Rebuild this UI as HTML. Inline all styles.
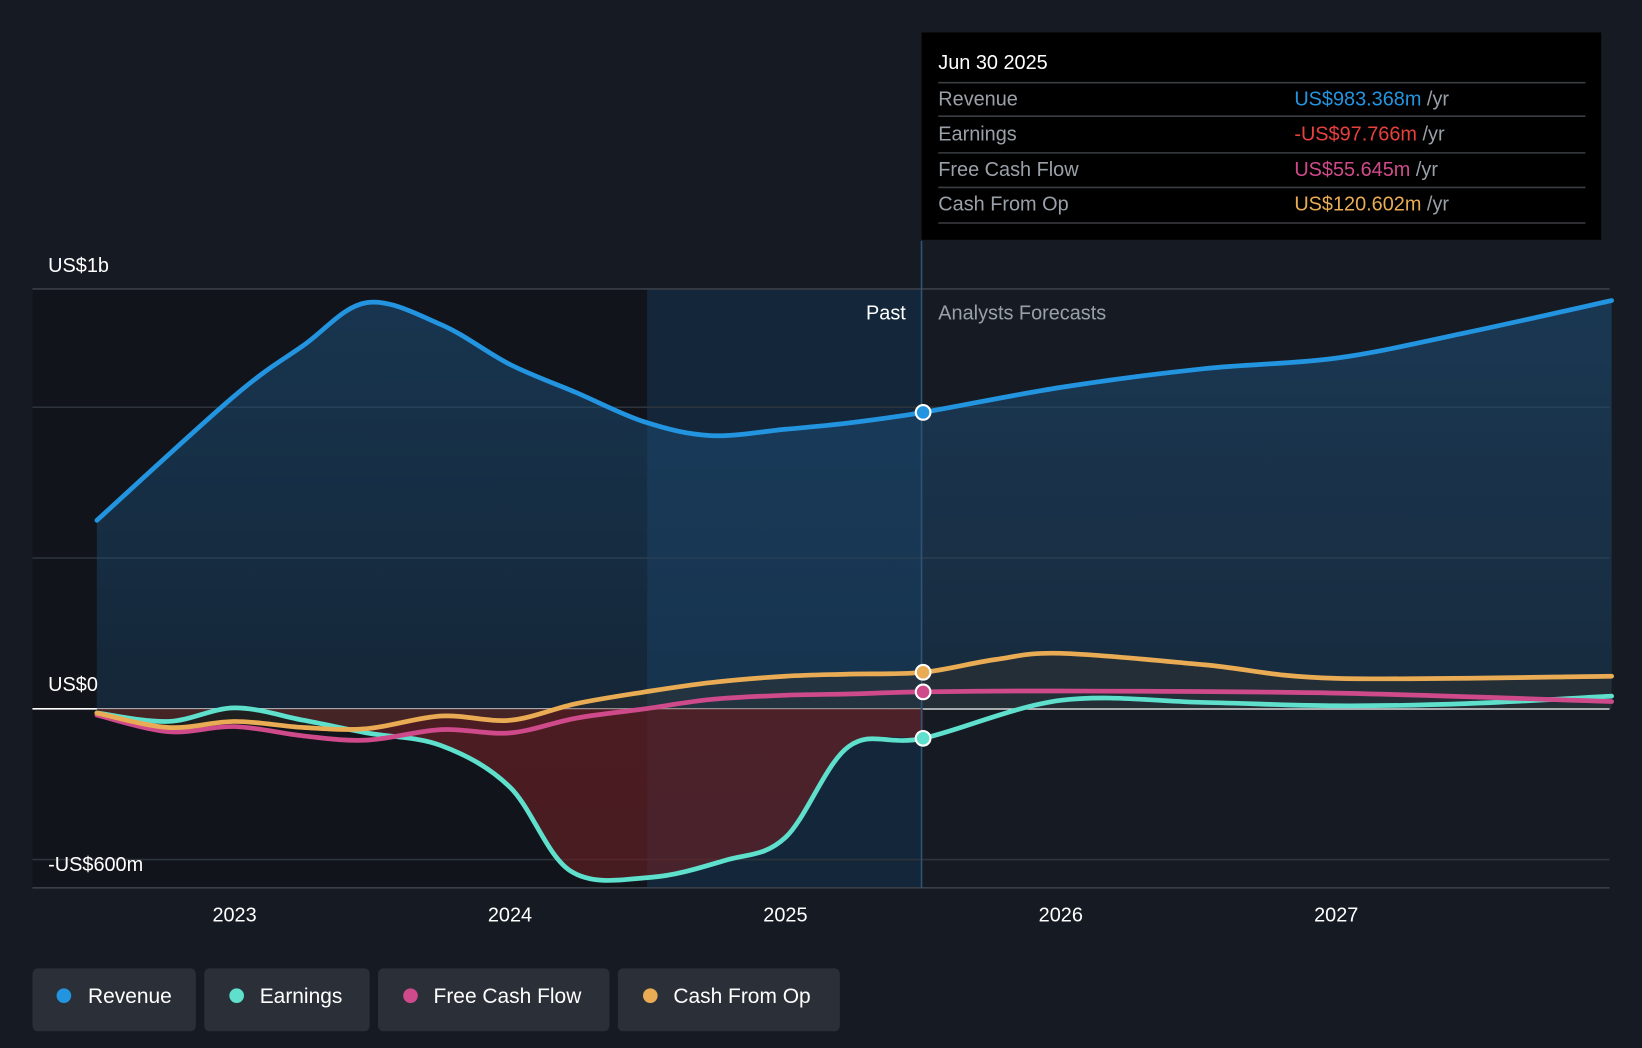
<!DOCTYPE html>
<html><head><meta charset="utf-8"><style>
html,body{margin:0;padding:0;background:#161b23;}
svg{display:block;font-family:"Liberation Sans",sans-serif;}
</style></head><body>
<svg id="chart" width="1642" height="1048" viewBox="0 0 1568 1001" preserveAspectRatio="none" xmlns="http://www.w3.org/2000/svg">
<defs>
<linearGradient id="revFill" x1="0" y1="0" x2="0" y2="1"><stop offset="0" stop-color="#1d4f7a" stop-opacity="0.55"/><stop offset="1" stop-color="#1d4f7a" stop-opacity="0.3"/></linearGradient>
<linearGradient id="earnFill" x1="0" y1="0" x2="0" y2="1"><stop offset="0" stop-color="#5a1f24" stop-opacity="0.8"/><stop offset="1" stop-color="#6a2024" stop-opacity="0.6"/></linearGradient>
</defs>
<rect x="0" y="0" width="1568" height="1001" fill="#161b23"/>
<rect x="31" y="276" width="587" height="572" fill="#11151b"/>
<rect x="618" y="276" width="262" height="572" fill="#142a40" opacity="0.8"/>
<g id="grid"></g>
<g id="areas"></g>
<g id="lines"></g>
<line x1="880" y1="230" x2="880" y2="848" stroke="#2d5577" stroke-width="1.5"/>
<text x="865" y="305" fill="#ffffff" font-size="19" text-anchor="end">Past</text>
<text x="896" y="305" fill="#9aa0a8" font-size="19">Analysts Forecasts</text>
<text x="46" y="260" fill="#ffffff" font-size="19">US$1b</text>
<text x="46" y="660" fill="#ffffff" font-size="19">US$0</text>
<text x="46" y="832" fill="#ffffff" font-size="19">-US$600m</text>
<g id="xticks"></g>
<g id="dots"></g>
<g>
<rect x="880" y="31" width="649" height="198" fill="#000000"/>
<text x="896" y="66" fill="#fff" font-size="19">Jun 30 2025</text>
<line x1="896" y1="79" x2="1514" y2="79" stroke="#3a3d42" stroke-width="1.5"/>
<text x="896" y="101" fill="#9aa0a8" font-size="19">Revenue</text>
<text x="1236" y="101" font-size="19"><tspan fill="#2394e0">US$983.368m</tspan><tspan fill="#9aa0a8"> /yr</tspan></text>
<line x1="896" y1="111" x2="1514" y2="111" stroke="#3a3d42" stroke-width="1.5"/>
<text x="896" y="134" fill="#9aa0a8" font-size="19">Earnings</text>
<text x="1236" y="134" font-size="19"><tspan fill="#e8403c">-US$97.766m</tspan><tspan fill="#9aa0a8"> /yr</tspan></text>
<line x1="896" y1="146" x2="1514" y2="146" stroke="#3a3d42" stroke-width="1.5"/>
<text x="896" y="168" fill="#9aa0a8" font-size="19">Free Cash Flow</text>
<text x="1236" y="168" font-size="19"><tspan fill="#cf4a8a">US$55.645m</tspan><tspan fill="#9aa0a8"> /yr</tspan></text>
<line x1="896" y1="179" x2="1514" y2="179" stroke="#3a3d42" stroke-width="1.5"/>
<text x="896" y="201" fill="#9aa0a8" font-size="19">Cash From Op</text>
<text x="1236" y="201" font-size="19"><tspan fill="#e9ac54">US$120.602m</tspan><tspan fill="#9aa0a8"> /yr</tspan></text>
<line x1="896" y1="213" x2="1514" y2="213" stroke="#3a3d42" stroke-width="1.5"/>
</g>
<g>
<g><rect x="31" y="925" width="156" height="60" rx="5" fill="#2a2f38"/><circle cx="61" cy="951" r="7" fill="#2394e0"/><text x="84" y="958" fill="#fff" font-size="20">Revenue</text></g>
<g><rect x="195" y="925" width="158" height="60" rx="5" fill="#2a2f38"/><circle cx="226" cy="951" r="7" fill="#5ee0cc"/><text x="248" y="958" fill="#fff" font-size="20">Earnings</text></g>
<g><rect x="361" y="925" width="221" height="60" rx="5" fill="#2a2f38"/><circle cx="392" cy="951" r="7" fill="#cf4a8a"/><text x="414" y="958" fill="#fff" font-size="20">Free Cash Flow</text></g>
<g><rect x="590" y="925" width="212" height="60" rx="5" fill="#2a2f38"/><circle cx="621" cy="951" r="7" fill="#e9ac54"/><text x="643" y="958" fill="#fff" font-size="20">Cash From Op</text></g>
</g>
</svg>
<script>
const revT = [2022.5,2023.0,2023.25,2023.48,2023.75,2024.0,2024.24,2024.49,2024.73,2025.0,2025.23,2025.5,2026.0,2026.52,2027.0,2027.47,2028.0];
const revV = [625,1038,1205,1347,1274,1142,1049,951,906,927,948,983,1066,1128,1163,1247,1354];
const earnT = [2022.5,2022.76,2023.0,2023.25,2023.48,2023.75,2024.0,2024.22,2024.51,2024.78,2025.0,2025.23,2025.5,2026.0,2026.52,2027.0,2027.47,2028.0];
const earnV = [-14,-42,3,-38,-80,-122,-260,-538,-559,-503,-427,-125,-98,28,21,10,17,42];
const fcfT = [2022.5,2022.76,2023.0,2023.25,2023.48,2023.75,2024.0,2024.24,2024.49,2024.73,2025.0,2025.23,2025.5,2026.0,2027.0,2028.0];
const fcfV = [-21,-76,-59,-90,-104,-69,-80,-31,0,31,45,49,56,59,52,24];
const cfoT = [2022.5,2022.76,2023.0,2023.25,2023.48,2023.75,2024.0,2024.24,2024.49,2024.73,2025.0,2025.23,2025.5,2025.76,2026.0,2026.52,2027.0,2028.0];
const cfoV = [-14,-62,-42,-62,-66,-24,-38,17,56,87,108,115,121,163,184,146,101,108];
const gridVals = [1000,500,0,-500];
const xTickYears = [2023,2024,2025,2026,2027];
const xTickLabels = ["2023","2024","2025","2026","2027"];
const nowT = 2025.5;

const X = t => 224 + (t - 2023) * 263;
const Y = v => 677 - v * 0.288;
const NS = "http://www.w3.org/2000/svg";
function mk(tag, attrs, parent){const e=document.createElementNS(NS,tag);for(const k in attrs)e.setAttribute(k,attrs[k]);parent.appendChild(e);return e;}
function pathD(ts, vs){
  const p = ts.map((t,i)=>[X(t),Y(vs[i])]);
  let d = "M"+p[0][0]+","+p[0][1];
  for(let i=0;i<p.length-1;i++){
    const p0=p[Math.max(0,i-1)],p1=p[i],p2=p[i+1],p3=p[Math.min(p.length-1,i+2)];
    const c1=[p1[0]+(p2[0]-p0[0])/6,p1[1]+(p2[1]-p0[1])/6];
    const c2=[p2[0]-(p3[0]-p1[0])/6,p2[1]-(p3[1]-p1[1])/6];
    d+=" C"+c1[0]+","+c1[1]+" "+c2[0]+","+c2[1]+" "+p2[0]+","+p2[1];
  }
  return d;
}
const grid=document.getElementById("grid");
const topLine=mk("line",{x1:31,x2:1537,y1:276,y2:276,stroke:"#3a3f47","stroke-width":1.5},grid);


gridVals.forEach(v=>{
  const l=mk("line",{x1:31,x2:1537,y1:Y(v),y2:Y(v),stroke:v===0?"#ffffff":"#2e343c","stroke-width":1.5},grid);
  
  
});
const baseLine=mk("line",{x1:31,x2:1537,y1:848,y2:848,stroke:"#3a3f47","stroke-width":1.5},grid);


const xt=document.getElementById("xticks");
xTickYears.forEach((yr,i)=>{
  const t=mk("text",{x:X(yr),y:880,fill:"#ffffff","font-size":19,"text-anchor":"middle"},xt);
  t.textContent=xTickLabels[i];
  
  
});
const areas=document.getElementById("areas");
const y0=Y(0);
const ra=mk("path",{d:pathD(revT,revV)+" L"+X(revT[revT.length-1])+","+y0+" L"+X(revT[0])+","+y0+" Z",fill:"url(#revFill)"},areas);


const pastIdx=earnT.findIndex(t=>t>=nowT);
const eT=earnT.slice(0,pastIdx+1), eV=earnV.slice(0,pastIdx+1);
const ea=mk("path",{d:pathD(eT,eV)+" L"+X(nowT)+","+y0+" L"+X(eT[0])+","+y0+" Z",fill:"url(#earnFill)"},areas);


const cfoA=mk("path",{d:pathD(cfoT,cfoV)+" L"+X(cfoT[cfoT.length-1])+","+y0+" L"+X(cfoT[0])+","+y0+" Z",fill:"#3a3528",opacity:0.35},areas);


const lines=document.getElementById("lines");
const series=[["earnings-line",earnT,earnV,"#5ee0cc"],["free-cash-flow-line",fcfT,fcfV,"#cf4a8a"],["cash-from-op-line",cfoT,cfoV,"#e9ac54"],["revenue-line",revT,revV,"#2394e0"]];
series.forEach(s=>{
  const p=mk("path",{d:pathD(s[1],s[2]),fill:"none",stroke:s[3],"stroke-width":4.5,"stroke-linecap":"round"},lines);
  
  
});
const dots=document.getElementById("dots");
[[revT,revV,"#2394e0","revenue-dot"],[earnT,earnV,"#5ee0cc","earnings-dot"],[fcfT,fcfV,"#cf4a8a","fcf-dot"],[cfoT,cfoV,"#e9ac54","cfo-dot"]].forEach(s=>{
  const i=s[0].indexOf(nowT);
  const c=mk("circle",{cx:X(nowT),cy:Y(s[1][i]),r:7,fill:s[2],stroke:"#ffffff","stroke-width":2},dots);
  
  
});
</script>
</body></html>
